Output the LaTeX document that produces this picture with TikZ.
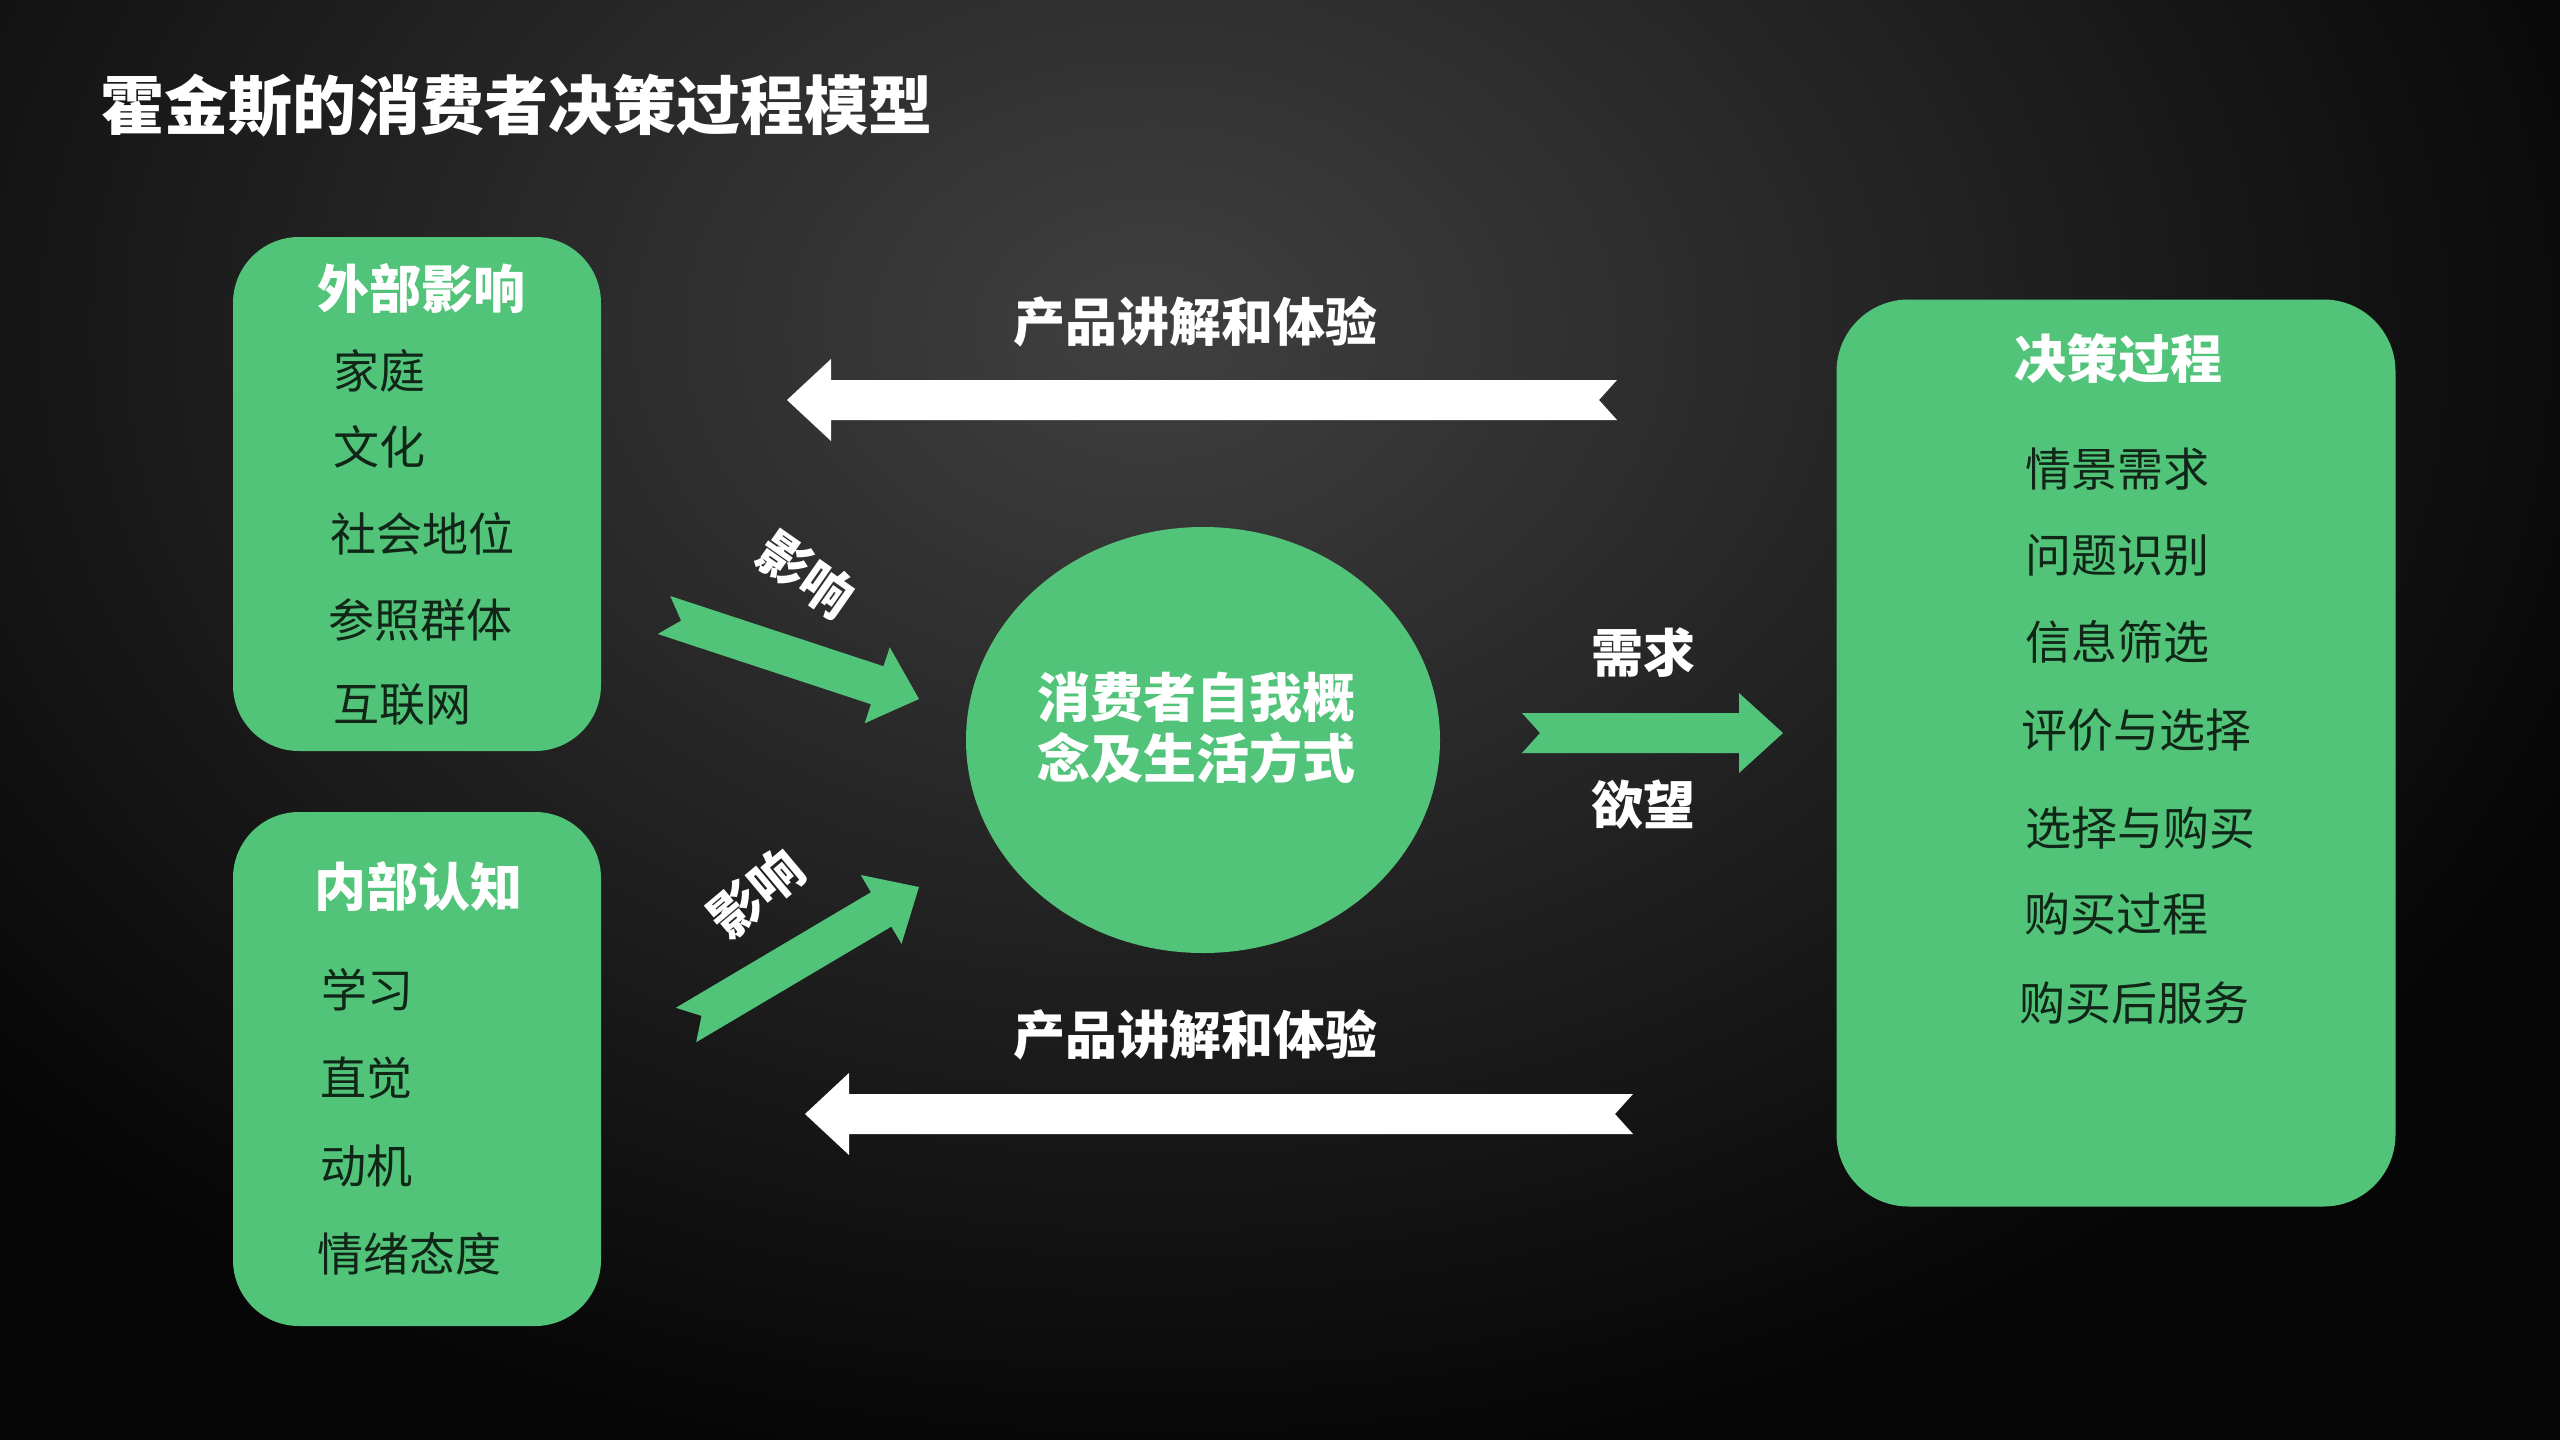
\documentclass[tikz,border=0pt]{standalone}
\usepackage{fontspec}
\setmainfont{Noto Sans CJK SC}
\usepackage{tikz}
\usetikzlibrary{calc,shapes.geometric}

\definecolor{grn}{RGB}{82,196,122}
\definecolor{itemtxt}{RGB}{16,38,22}
\definecolor{bgin}{RGB}{64,64,64}
\definecolor{bgout}{RGB}{6,6,6}

% block arrow with a notched tail: colour, tail, tip, shaft half width, head half width, head length
\newcommand{\fatarrow}[6]{%
  \coordinate (#3-base) at ($(#3)!#6!(#2)$);
  \fill[#1] ($(#2)!#4!90:(#3)$) -- ($(#3-base)!#4!90:(#3)$) -- ($(#3-base)!#5!90:(#3)$) -- (#3)
    -- ($(#3-base)!#5!-90:(#3)$) -- ($(#3-base)!#4!-90:(#3)$) -- ($(#2)!#4!-90:(#3)$)
    -- ($(#2)!18pt!(#3)$) -- cycle;}

\begin{document}
\begin{tikzpicture}[x=1pt,y=-1pt,
  every node/.style={inner sep=0pt},
  heading/.style={font=\bfseries\fontsize{64}{70}\selectfont,text=white},
  boxtitle/.style={font=\bfseries\fontsize{52}{58}\selectfont,text=white},
  label/.style={font=\bfseries\fontsize{52}{58}\selectfont,text=white},
  item/.style={anchor=west,font=\fontsize{46}{52}\selectfont,text=itemtxt},
  greenbox/.style={fill=grn,rounded corners=66pt}]

\useasboundingbox (0,0) rectangle (2560,1440);
\fill[bgout] (0,0) rectangle (2560,1440);
\begin{scope}
\clip (0,0) rectangle (2560,1440);
\shade[inner color=bgin,outer color=bgout] (1150,330) ellipse (1550pt and 1150pt);
\end{scope}

\node[heading,anchor=west] (title) at (100,106) {霍金斯的消费者决策过程模型};

% left boxes
\node[greenbox,minimum width=368pt,minimum height=514pt] (ext) at (417,494) {};
\node[boxtitle] (extT) at (421,289) {外部影响};
\node[item] (ext1) at (333,371) {家庭};
\node[item] (ext2) at (333,447) {文化};
\node[item] (ext3) at (330,534) {社会地位};
\node[item] (ext4) at (328,620) {参照群体};
\node[item] (ext5) at (333,705) {互联网};

\node[greenbox,minimum width=368pt,minimum height=514pt] (int) at (417,1069) {};
\node[boxtitle] (intT) at (418,887) {内部认知};
\node[item] (int1) at (321,990) {学习};
\node[item] (int2) at (320,1078) {直觉};
\node[item] (int3) at (320,1166) {动机};
\node[item] (int4) at (317,1254) {情绪态度};

% right box
\node[greenbox,rounded corners=72pt,minimum width=559pt,minimum height=907pt] (dec) at (2116,753) {};
\node[boxtitle] (decT) at (2118,359) {决策过程};
\node[item] (dec1) at (2025,469) {情景需求};
\node[item] (dec2) at (2025,555) {问题识别};
\node[item] (dec3) at (2025,642) {信息筛选};
\node[item] (dec4) at (2021,730) {评价与选择};
\node[item] (dec5) at (2025,828) {选择与购买};
\node[item] (dec6) at (2024,914) {购买过程};
\node[item] (dec7) at (2019,1003) {购买后服务};

% centre
\node[ellipse,fill=grn,minimum width=474pt,minimum height=426pt] (self) at (1203,740) {};
\node[label,align=center,font=\bfseries\fontsize{53}{61}\selectfont] (selfT) at (1196,728) {消费者自我概\\念及生活方式};

% arrows
\coordinate (demoA-from) at (1617,400);
\coordinate (demoA-to) at (787,400);
\coordinate (demoB-from) at (1633,1114);
\coordinate (demoB-to) at (805,1114);
\coordinate (need-from) at (1522,733);
\coordinate (need-to) at (1783,733);
\coordinate (infA-from) at (664,615);
\coordinate (infA-to) at (919,699);
\coordinate (infB-from) at (686,1025);
\coordinate (infB-to) at (919,887);

\fatarrow{white}{demoA-from}{demoA-to}{20pt}{41pt}{44pt}
\fatarrow{white}{demoB-from}{demoB-to}{20pt}{41pt}{44pt}
\fatarrow{grn}{need-from}{need-to}{20pt}{40pt}{44pt}
\fatarrow{grn}{infA-from}{infA-to}{20pt}{40pt}{44pt}
\fatarrow{grn}{infB-from}{infB-to}{20pt}{40pt}{44pt}

\node[label] (demoAT) at (1195,322) {产品讲解和体验};
\node[label] (demoBT) at (1195,1035) {产品讲解和体验};
\node[label] (needT) at (1643,653) {需求};
\node[label] (wantT) at (1643,805) {欲望};
\node[label,rotate=-35] (infAT) at (806,574) {影响};
\node[label,rotate=40] (infBT) at (756,893) {影响};
\end{tikzpicture}
\end{document}
